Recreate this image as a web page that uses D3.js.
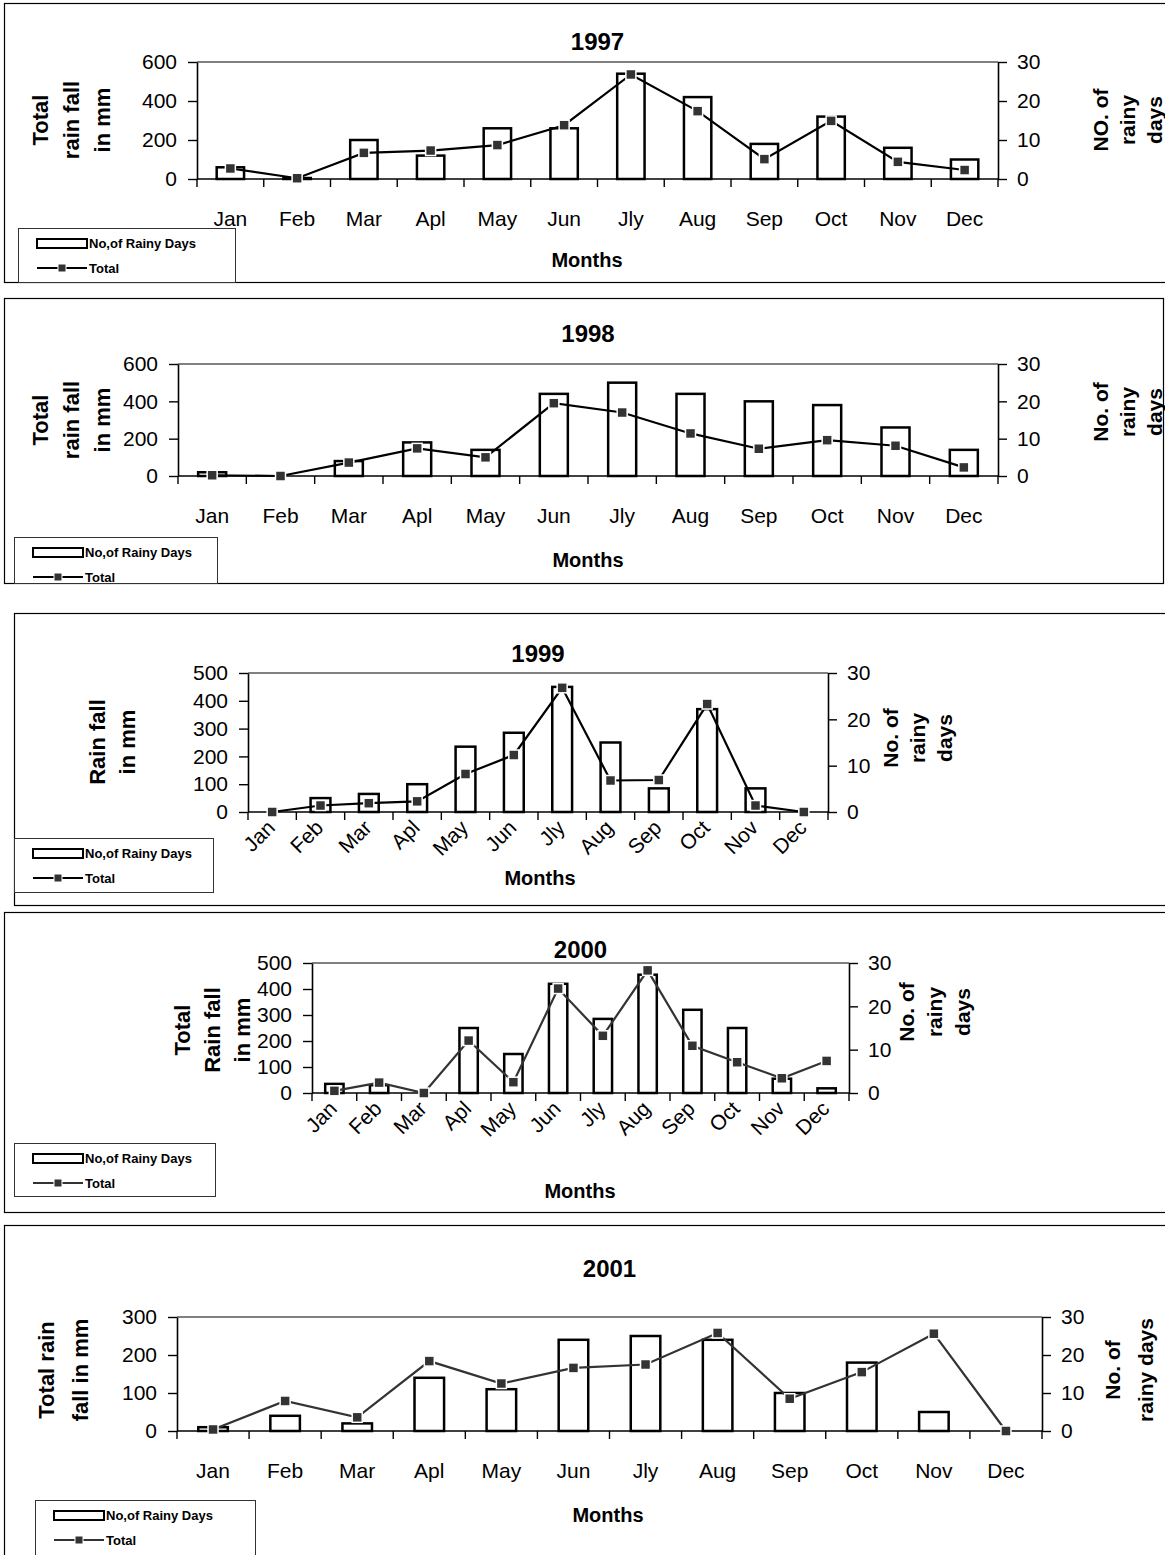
<!DOCTYPE html>
<html>
<head>
<meta charset="utf-8">
<script src="https://cdn.jsdelivr.net/npm/d3@7"></script>
<style>
  html, body { margin: 0; padding: 0; background: #fff; }
  svg { display: block; font-family: "Liberation Sans", Arial, sans-serif; }
</style>
</head>
<body>
<svg id="chart" width="1165" height="1555"></svg>
<script>
// Monthly rainfall (mm, bars on the left axis) and rainy days (line, right axis)
const months = ["Jan", "Feb", "Mar", "Apl", "May", "Jun", "Jly", "Aug", "Sep", "Oct", "Nov", "Dec"];

const rain1997 = [60, 5, 200, 120, 260, 260, 540, 420, 180, 320, 160, 100];
const days1997 = [2.7, 0.2, 6.7, 7.3, 8.7, 13.8, 26.8, 17.4, 5.1, 14.9, 4.4, 2.3];

const rain1998 = [20, 0, 80, 180, 140, 440, 500, 440, 400, 380, 260, 140];
const days1998 = [0.2, 0, 3.6, 7.4, 5.0, 19.5, 17.0, 11.4, 7.3, 9.6, 8.1, 2.3];

const rain1999 = [0, 50, 65, 100, 235, 285, 450, 250, 85, 370, 85, 0];
const days1999 = [0, 1.4, 1.9, 2.3, 8.2, 12.3, 26.8, 6.8, 6.9, 23.3, 1.4, 0];

const rain2000 = [35, 30, 0, 250, 150, 420, 285, 455, 320, 250, 55, 18];
const days2000 = [0.5, 2.4, 0, 12.1, 2.5, 24.1, 13.2, 28.3, 10.9, 7.1, 3.4, 7.4];

const rain2001 = [10, 40, 20, 140, 110, 240, 250, 240, 100, 180, 50, 0];
const days2001 = [0.4, 7.9, 3.6, 18.4, 12.5, 16.6, 17.5, 25.8, 8.5, 15.5, 25.6, 0];

const legendLabels = ["No,of Rainy Days", "Total"];

// Panel layout: frame, plot box, axis titles and legend placement
const panels = [
  { year: "1997", rain: rain1997, days: days1997, yMax: 600, yStep: 200, rotate: false,
    frame: [4, 3, 1175, 279], plot: { l: 197, r: 998, t: 62, b: 179 },
    titleY: 50, monthsY: 267, monthsX: 587, labelY: 226,
    leftTitle: { x: 40, y: 120, lines: ["Total", "rain fall", "in mm"], gap: 31 },
    rightTitle: { x: 1100, y: 120, lines: ["NO. of", "rainy", "days"], gap: 27 },
    legend: { x: 18, y: 228, w: 217, h: 54 }, lineColor: "#000" },
  { year: "1998", rain: rain1998, days: days1998, yMax: 600, yStep: 200, rotate: false,
    frame: [4, 298, 1159, 285], plot: { l: 178, r: 998, t: 364, b: 476 },
    titleY: 342, monthsY: 567, monthsX: 588, labelY: 523,
    leftTitle: { x: 40, y: 420, lines: ["Total", "rain fall", "in mm"], gap: 31 },
    rightTitle: { x: 1100, y: 412, lines: ["No. of", "rainy", "days"], gap: 27 },
    legend: { x: 14, y: 537, w: 203, h: 46 }, lineColor: "#000" },
  { year: "1999", rain: rain1999, days: days1999, yMax: 500, yStep: 100, rotate: true,
    frame: [14, 613, 1165, 292], plot: { l: 248, r: 828, t: 673, b: 812 },
    titleY: 662, monthsY: 885, monthsX: 540,
    leftTitle: { x: 97, y: 742, lines: ["Rain fall", "in mm"], gap: 30 },
    rightTitle: { x: 890, y: 738, lines: ["No. of", "rainy", "days"], gap: 27 },
    legend: { x: 14, y: 838, w: 199, h: 54 }, lineColor: "#000" },
  { year: "2000", rain: rain2000, days: days2000, yMax: 500, yStep: 100, rotate: true,
    frame: [4, 912, 1175, 300], plot: { l: 312, r: 849, t: 963, b: 1093 },
    titleY: 958, monthsY: 1198, monthsX: 580,
    leftTitle: { x: 182, y: 1030, lines: ["Total", "Rain fall", "in mm"], gap: 30 },
    rightTitle: { x: 906, y: 1012, lines: ["No. of", "rainy", "days"], gap: 28 },
    legend: { x: 14, y: 1143, w: 201, h: 53 }, lineColor: "#333" },
  { year: "2001", rain: rain2001, days: days2001, yMax: 300, yStep: 100, rotate: false,
    frame: [4, 1225, 1175, 340], plot: { l: 177, r: 1042, t: 1317, b: 1431 },
    titleY: 1277, monthsY: 1522, monthsX: 608, labelY: 1478,
    leftTitle: { x: 46, y: 1370, lines: ["Total rain", "fall in mm"], gap: 34 },
    rightTitle: { x: 1112, y: 1370, lines: ["No. of", "rainy days"], gap: 33 },
    legend: { x: 35, y: 1500, w: 220, h: 60 }, lineColor: "#333" }
];

const svg = d3.select("#chart");

function rotatedTitle(g, t, size) {
  const text = g.append("text")
    .attr("transform", `translate(${t.x},${t.y}) rotate(-90)`)
    .attr("text-anchor", "middle")
    .attr("font-weight", "bold")
    .attr("font-size", size)
    .attr("fill", "#000");
  t.lines.forEach((ln, i) => {
    text.append("tspan").attr("x", 0).attr("y", i * t.gap + size * 0.36).text(ln);
  });
}

function drawPanel(p) {
  const g = svg.append("g");
  const { l, r, t, b } = p.plot;

  // outer frame
  g.append("rect")
    .attr("x", p.frame[0] + 0.5).attr("y", p.frame[1] + 0.5)
    .attr("width", p.frame[2]).attr("height", p.frame[3])
    .attr("fill", "none").attr("stroke", "#000").attr("stroke-width", 1.2);

  const x = d3.scaleBand().domain(months).range([l, r]);
  const yL = d3.scaleLinear().domain([0, p.yMax]).range([b, t]);
  const yR = d3.scaleLinear().domain([0, 30]).range([b, t]);

  // plot area top edge (grey)
  g.append("line").attr("x1", l).attr("x2", r).attr("y1", t).attr("y2", t)
    .attr("stroke", "#808080").attr("stroke-width", 2);

  // left axis
  const left = g.append("g").attr("transform", `translate(${l},0)`)
    .call(d3.axisLeft(yL).tickValues(d3.range(0, p.yMax + 1, p.yStep)).tickSizeInner(9).tickSizeOuter(0).tickPadding(11));
  // right axis
  const right = g.append("g").attr("transform", `translate(${r},0)`)
    .call(d3.axisRight(yR).tickValues([0, 10, 20, 30]).tickSizeInner(9).tickSizeOuter(0).tickPadding(10));
  [left, right].forEach(a => {
    a.select(".domain").attr("stroke", "#000").attr("stroke-width", 1.6);
    a.selectAll(".tick line").attr("stroke", "#000").attr("stroke-width", 1.4);
    a.selectAll(".tick text").attr("font-size", 21).attr("fill", "#000")
      .attr("font-family", "Liberation Sans, Arial, sans-serif");
  });

  // bottom axis: ticks at category boundaries
  g.append("line").attr("x1", l).attr("x2", r).attr("y1", b).attr("y2", b)
    .attr("stroke", "#000").attr("stroke-width", 1.6);
  const bounds = months.map(m => x(m)).concat([r]);
  g.selectAll(".xtick").data(bounds).join("line")
    .attr("x1", d => d).attr("x2", d => d).attr("y1", b).attr("y2", b + 8)
    .attr("stroke", "#000").attr("stroke-width", 1.4);

  // month labels
  const labels = g.selectAll(".mlab").data(months).join("text")
    .attr("font-size", 21).attr("fill", "#000");
  if (p.rotate) {
    labels.attr("text-anchor", "end")
      .attr("transform", d => `translate(${x(d) + x.bandwidth() / 2 + 4},${b + 17}) rotate(-45)`)
      .text(d => d);
  } else {
    labels.attr("text-anchor", "middle")
      .attr("x", d => x(d) + x.bandwidth() / 2).attr("y", p.labelY)
      .text(d => d);
  }

  // bars
  const bw = x.bandwidth() * 0.41;
  g.selectAll(".bar").data(months).join("rect")
    .attr("x", d => x(d) + (x.bandwidth() - bw) / 2)
    .attr("y", (d, i) => yL(p.rain[i]))
    .attr("width", bw)
    .attr("height", (d, i) => b - yL(p.rain[i]))
    .attr("fill", "#fff").attr("stroke", "#000").attr("stroke-width", 2.5);

  // rainy-days line with square markers
  const cx = d => x(d) + x.bandwidth() / 2;
  const line = d3.line().x(d => cx(d.m)).y(d => yR(d.v));
  const pts = months.map((m, i) => ({ m, v: p.days[i] }));
  g.append("path").datum(pts).attr("d", line)
    .attr("fill", "none").attr("stroke", p.lineColor).attr("stroke-width", 2.2);
  const ms = 10;
  g.selectAll(".mk").data(pts).join("rect")
    .attr("x", d => cx(d.m) - ms / 2).attr("y", d => yR(d.v) - ms / 2)
    .attr("width", ms).attr("height", ms)
    .attr("fill", "#333").attr("stroke", "#fff").attr("stroke-width", 1.5);

  // titles
  g.append("text").attr("x", (l + r) / 2).attr("y", p.titleY)
    .attr("text-anchor", "middle").attr("font-weight", "bold").attr("font-size", 24)
    .text(p.year);
  g.append("text").attr("x", p.monthsX).attr("y", p.monthsY)
    .attr("text-anchor", "middle").attr("font-weight", "bold").attr("font-size", 20)
    .text("Months");
  rotatedTitle(g, p.leftTitle, 22);
  rotatedTitle(g, p.rightTitle, 21);

  // legend
  const lg = p.legend;
  const leg = g.append("g").attr("transform", `translate(${lg.x},${lg.y})`);
  leg.append("rect").attr("x", 0.5).attr("y", 0.5).attr("width", lg.w).attr("height", lg.h)
    .attr("fill", "#fff").attr("stroke", "#333").attr("stroke-width", 1);
  leg.append("rect").attr("x", 19).attr("y", 11).attr("width", 50).attr("height", 9)
    .attr("fill", "#fff").attr("stroke", "#000").attr("stroke-width", 2);
  leg.append("text").attr("x", 71).attr("y", 20).attr("font-size", 13).attr("font-weight", "bold")
    .text(legendLabels[0]);
  leg.append("line").attr("x1", 19).attr("x2", 69).attr("y1", 40).attr("y2", 40)
    .attr("stroke", p.lineColor).attr("stroke-width", 2);
  leg.append("rect").attr("x", 40).attr("y", 36).attr("width", 8).attr("height", 8)
    .attr("fill", "#333").attr("stroke", "#fff").attr("stroke-width", 1);
  leg.append("text").attr("x", 71).attr("y", 45).attr("font-size", 13).attr("font-weight", "bold")
    .text(legendLabels[1]);
}

panels.forEach(drawPanel);
</script>
</body>
</html>
